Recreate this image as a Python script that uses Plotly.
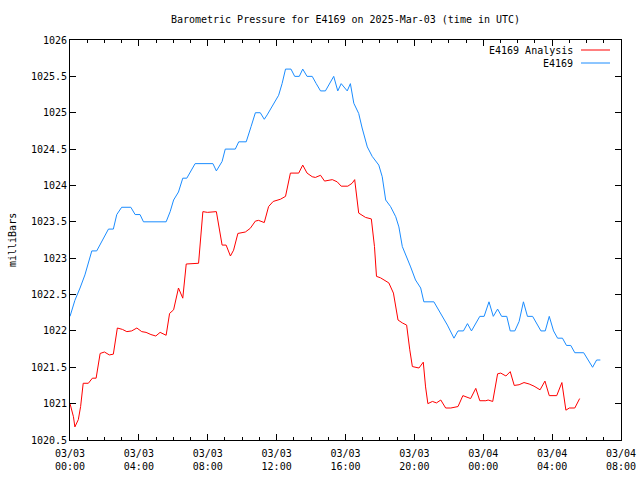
import plotly.graph_objects as go

# ---- data ----
obs_time = ["2025-03-03 00:00","2025-03-03 00:17","2025-03-03 00:35","2025-03-03 00:52","2025-03-03 01:16",
            "2025-03-03 01:33","2025-03-03 02:14","2025-03-03 02:31","2025-03-03 02:43","2025-03-03 03:00",
            "2025-03-03 03:32","2025-03-03 03:47","2025-03-03 04:04","2025-03-03 04:16","2025-03-03 05:35",
            "2025-03-03 05:49","2025-03-03 06:01","2025-03-03 06:18","2025-03-03 06:33","2025-03-03 06:47",
            "2025-03-03 07:16","2025-03-03 08:18","2025-03-03 08:30","2025-03-03 08:50","2025-03-03 09:01",
            "2025-03-03 09:36","2025-03-03 09:48","2025-03-03 10:14","2025-03-03 10:31","2025-03-03 10:46",
            "2025-03-03 11:03","2025-03-03 11:17","2025-03-03 11:27","2025-03-03 12:07","2025-03-03 12:19",
            "2025-03-03 12:31","2025-03-03 12:50","2025-03-03 13:03","2025-03-03 13:19","2025-03-03 13:31",
            "2025-03-03 13:46","2025-03-03 14:04","2025-03-03 14:18","2025-03-03 14:33","2025-03-03 14:50",
            "2025-03-03 15:19","2025-03-03 15:33","2025-03-03 15:45","2025-03-03 16:06","2025-03-03 16:17",
            "2025-03-03 16:29","2025-03-03 16:46","2025-03-03 16:58","2025-03-03 17:16","2025-03-03 17:33",
            "2025-03-03 17:56","2025-03-03 18:08","2025-03-03 18:20","2025-03-03 18:37","2025-03-03 18:55",
            "2025-03-03 19:06","2025-03-03 19:18","2025-03-03 19:47","2025-03-03 20:04","2025-03-03 20:22",
            "2025-03-03 20:33","2025-03-03 21:08","2025-03-03 21:38","2025-03-03 21:55","2025-03-03 22:18",
            "2025-03-03 22:32","2025-03-03 22:51","2025-03-03 23:05","2025-03-03 23:19","2025-03-03 23:48",
            "2025-03-04 00:03","2025-03-04 00:20","2025-03-04 00:35","2025-03-04 00:50","2025-03-04 01:04",
            "2025-03-04 01:22","2025-03-04 01:34","2025-03-04 01:50","2025-03-04 02:05","2025-03-04 02:20",
            "2025-03-04 02:34","2025-03-04 02:52","2025-03-04 03:21","2025-03-04 03:36","2025-03-04 03:50",
            "2025-03-04 04:05","2025-03-04 04:19","2025-03-04 04:36","2025-03-04 04:50","2025-03-04 05:05",
            "2025-03-04 05:19","2025-03-04 05:50","2025-03-04 06:21","2025-03-04 06:35","2025-03-04 06:48"]
obs_mb = [1022.2,1022.42,1022.59,1022.77,1023.1,1023.1,1023.4,1023.4,1023.6,1023.7,
          1023.7,1023.6,1023.6,1023.5,1023.5,1023.64,1023.8,1023.91,1024.1,1024.1,
          1024.3,1024.3,1024.2,1024.33,1024.5,1024.5,1024.6,1024.6,1024.81,1025.0,
          1025.0,1024.91,1024.97,1025.24,1025.4,1025.6,1025.6,1025.5,1025.5,1025.6,
          1025.5,1025.5,1025.4,1025.3,1025.3,1025.5,1025.3,1025.4,1025.3,1025.4,
          1025.13,1024.99,1024.79,1024.53,1024.4,1024.28,1024.12,1023.8,1023.71,1023.57,
          1023.43,1023.16,1022.88,1022.7,1022.59,1022.4,1022.4,1022.2,1022.08,1021.9,
          1022.0,1022.0,1022.1,1022.0,1022.2,1022.2,1022.4,1022.2,1022.3,1022.2,
          1022.2,1022.0,1022.0,1022.13,1022.4,1022.2,1022.2,1022.0,1022.0,1022.2,
          1022.0,1021.9,1021.9,1021.8,1021.8,1021.7,1021.7,1021.5,1021.6,1021.6]

ana_time = ["2025-03-03 00:00","2025-03-03 00:12","2025-03-03 00:17","2025-03-03 00:29","2025-03-03 00:37",
            "2025-03-03 00:46","2025-03-03 01:04","2025-03-03 01:18","2025-03-03 01:31","2025-03-03 01:45",
            "2025-03-03 02:00","2025-03-03 02:17","2025-03-03 02:31","2025-03-03 02:45","2025-03-03 03:03",
            "2025-03-03 03:18","2025-03-03 03:35","2025-03-03 03:53","2025-03-03 04:10","2025-03-03 04:25",
            "2025-03-03 04:42","2025-03-03 04:59","2025-03-03 05:14","2025-03-03 05:35","2025-03-03 05:47",
            "2025-03-03 06:01","2025-03-03 06:18","2025-03-03 06:33","2025-03-03 06:45","2025-03-03 07:28",
            "2025-03-03 07:43","2025-03-03 07:59","2025-03-03 08:30","2025-03-03 08:50","2025-03-03 09:04",
            "2025-03-03 09:19","2025-03-03 09:30","2025-03-03 09:45","2025-03-03 10:11","2025-03-03 10:28",
            "2025-03-03 10:46","2025-03-03 10:57","2025-03-03 11:17","2025-03-03 11:32","2025-03-03 11:48",
            "2025-03-03 12:13","2025-03-03 12:31","2025-03-03 12:48","2025-03-03 13:17","2025-03-03 13:31",
            "2025-03-03 13:46","2025-03-03 14:04","2025-03-03 14:15","2025-03-03 14:33","2025-03-03 14:47",
            "2025-03-03 15:14","2025-03-03 15:31","2025-03-03 15:45","2025-03-03 16:08","2025-03-03 16:23",
            "2025-03-03 16:32","2025-03-03 16:46","2025-03-03 17:10","2025-03-03 17:30","2025-03-03 17:41",
            "2025-03-03 17:48","2025-03-03 18:02","2025-03-03 18:20","2025-03-03 18:31","2025-03-03 18:47",
            "2025-03-03 19:03","2025-03-03 19:18","2025-03-03 19:33","2025-03-03 19:44","2025-03-03 19:53",
            "2025-03-03 20:16","2025-03-03 20:31","2025-03-03 20:39","2025-03-03 20:47","2025-03-03 21:03",
            "2025-03-03 21:17","2025-03-03 21:32","2025-03-03 21:49","2025-03-03 22:07","2025-03-03 22:32",
            "2025-03-03 22:49","2025-03-03 23:16","2025-03-03 23:34","2025-03-03 23:48","2025-03-04 00:09",
            "2025-03-04 00:17","2025-03-04 00:33","2025-03-04 00:40","2025-03-04 00:50","2025-03-04 01:01",
            "2025-03-04 01:19","2025-03-04 01:34","2025-03-04 01:48","2025-03-04 02:05","2025-03-04 02:22",
            "2025-03-04 02:40","2025-03-04 02:57","2025-03-04 03:18","2025-03-04 03:35","2025-03-04 03:50",
            "2025-03-04 04:16","2025-03-04 04:34","2025-03-04 04:40","2025-03-04 04:48","2025-03-04 05:00",
            "2025-03-04 05:19","2025-03-04 05:36"]
ana_mb = [1021.0,1020.82,1020.68,1020.78,1020.96,1021.28,1021.28,1021.35,1021.35,1021.69,
          1021.71,1021.67,1021.68,1022.04,1022.02,1021.99,1022.0,1022.04,1021.99,1021.98,
          1021.95,1021.93,1021.98,1021.94,1022.24,1022.29,1022.59,1022.45,1022.92,1022.93,
          1023.64,1023.63,1023.64,1023.18,1023.18,1023.03,1023.11,1023.34,1023.36,1023.41,
          1023.51,1023.52,1023.49,1023.71,1023.78,1023.81,1023.85,1024.17,1024.17,1024.28,
          1024.17,1024.12,1024.11,1024.14,1024.06,1024.08,1024.05,1023.99,1023.99,1024.03,
          1024.08,1023.62,1023.56,1023.54,1023.16,1022.75,1022.73,1022.68,1022.66,1022.52,
          1022.15,1022.11,1022.08,1021.74,1021.51,1021.49,1021.57,1021.23,1021.0,1021.03,
          1021.01,1021.05,1020.94,1020.94,1020.96,1021.11,1021.07,1021.21,1021.04,1021.04,
          1021.05,1021.03,1021.19,1021.41,1021.42,1021.38,1021.44,1021.25,1021.26,1021.29,
          1021.27,1021.24,1021.19,1021.31,1021.11,1021.11,1021.29,1021.14,1020.91,1020.94,
          1020.94,1021.07]

x_tickvals = ["2025-03-03 00:00","2025-03-03 04:00","2025-03-03 08:00","2025-03-03 12:00",
              "2025-03-03 16:00","2025-03-03 20:00","2025-03-04 00:00","2025-03-04 04:00",
              "2025-03-04 08:00"]
x_ticktext = ["03/03<br>00:00","03/03<br>04:00","03/03<br>08:00","03/03<br>12:00",
              "03/03<br>16:00","03/03<br>20:00","03/04<br>00:00","03/04<br>04:00",
              "03/04<br>08:00"]
y_tickvals = [1020.5,1021,1021.5,1022,1022.5,1023,1023.5,1024,1024.5,1025,1025.5,1026]
y_ticktext = ["1020.5","1021","1021.5","1022","1022.5","1023","1023.5","1024","1024.5","1025","1025.5","1026"]

names = ["E4169 Analysis", "E4169"]
colors = ["#ff0000", "#1a8cff"]

FONT = "DejaVu Sans Mono"
L, R, T, B = 70, 19, 40, 40
PW, PH = 640 - L - R, 480 - T - B

fig = go.Figure()
fig.add_trace(go.Scatter(x=ana_time, y=ana_mb, mode="lines", name=names[0],
                         line=dict(color=colors[0], width=1), showlegend=False))
fig.add_trace(go.Scatter(x=obs_time, y=obs_mb, mode="lines", name=names[1],
                         line=dict(color=colors[1], width=1), showlegend=False))

fig.update_layout(
    width=640, height=480,
    margin=dict(l=L, r=R, t=T, b=B, autoexpand=False),
    paper_bgcolor="white", plot_bgcolor="white",
    font=dict(family=FONT, size=10, color="black"),
    title=dict(text="Barometric Pressure for E4169 on 2025-Mar-03 (time in UTC)",
               x=(L + PW / 2) / 640, xanchor="center", y=1 - 19 / 480, yanchor="middle",
               font=dict(family=FONT, size=10, color="black")),
    xaxis=dict(type="date", range=["2025-03-03 00:00", "2025-03-04 08:00"],
               tickvals=x_tickvals, ticktext=x_ticktext, tickangle=0,
               ticks="inside", ticklen=6, tickcolor="black", tickwidth=1,
               showline=True, linecolor="black", linewidth=1, mirror="ticks",
               showgrid=False, zeroline=False, automargin=False,
               ticklabelstandoff=4,
               minor=dict(dtick=3600000, tick0="2025-03-03 00:00", ticks="inside",
                          ticklen=3, tickcolor="black", showgrid=False),
               tickfont=dict(family=FONT, size=10)),
    yaxis=dict(range=[1020.5, 1026], tickvals=y_tickvals, ticktext=y_ticktext,
               ticks="inside", ticklen=6, tickcolor="black", tickwidth=1,
               showline=True, linecolor="black", linewidth=1, mirror="ticks",
               showgrid=False, zeroline=False, automargin=False,
               tickfont=dict(family=FONT, size=10)),
)

# y-axis label
fig.add_annotation(text="milliBars", xref="paper", yref="paper",
                   x=(12 - L) / PW, y=0.5, xanchor="center", yanchor="middle",
                   textangle=-90, showarrow=False, font=dict(family=FONT, size=10))

# legend (gnuplot style: text right, sample line after)
leg_y = [1 - (50 - T) / PH, 1 - (63 - T) / PH]
for i in range(2):
    fig.add_annotation(text=names[i], xref="paper", yref="paper",
                       x=(575 - L) / PW, y=leg_y[i], xanchor="right", yanchor="middle",
                       showarrow=False, font=dict(family=FONT, size=10))
    fig.add_shape(type="line", xref="paper", yref="paper",
                  x0=(581 - L) / PW, x1=(610 - L) / PW, y0=leg_y[i], y1=leg_y[i],
                  line=dict(color=colors[i], width=1))

fig.write_html("out.html")
